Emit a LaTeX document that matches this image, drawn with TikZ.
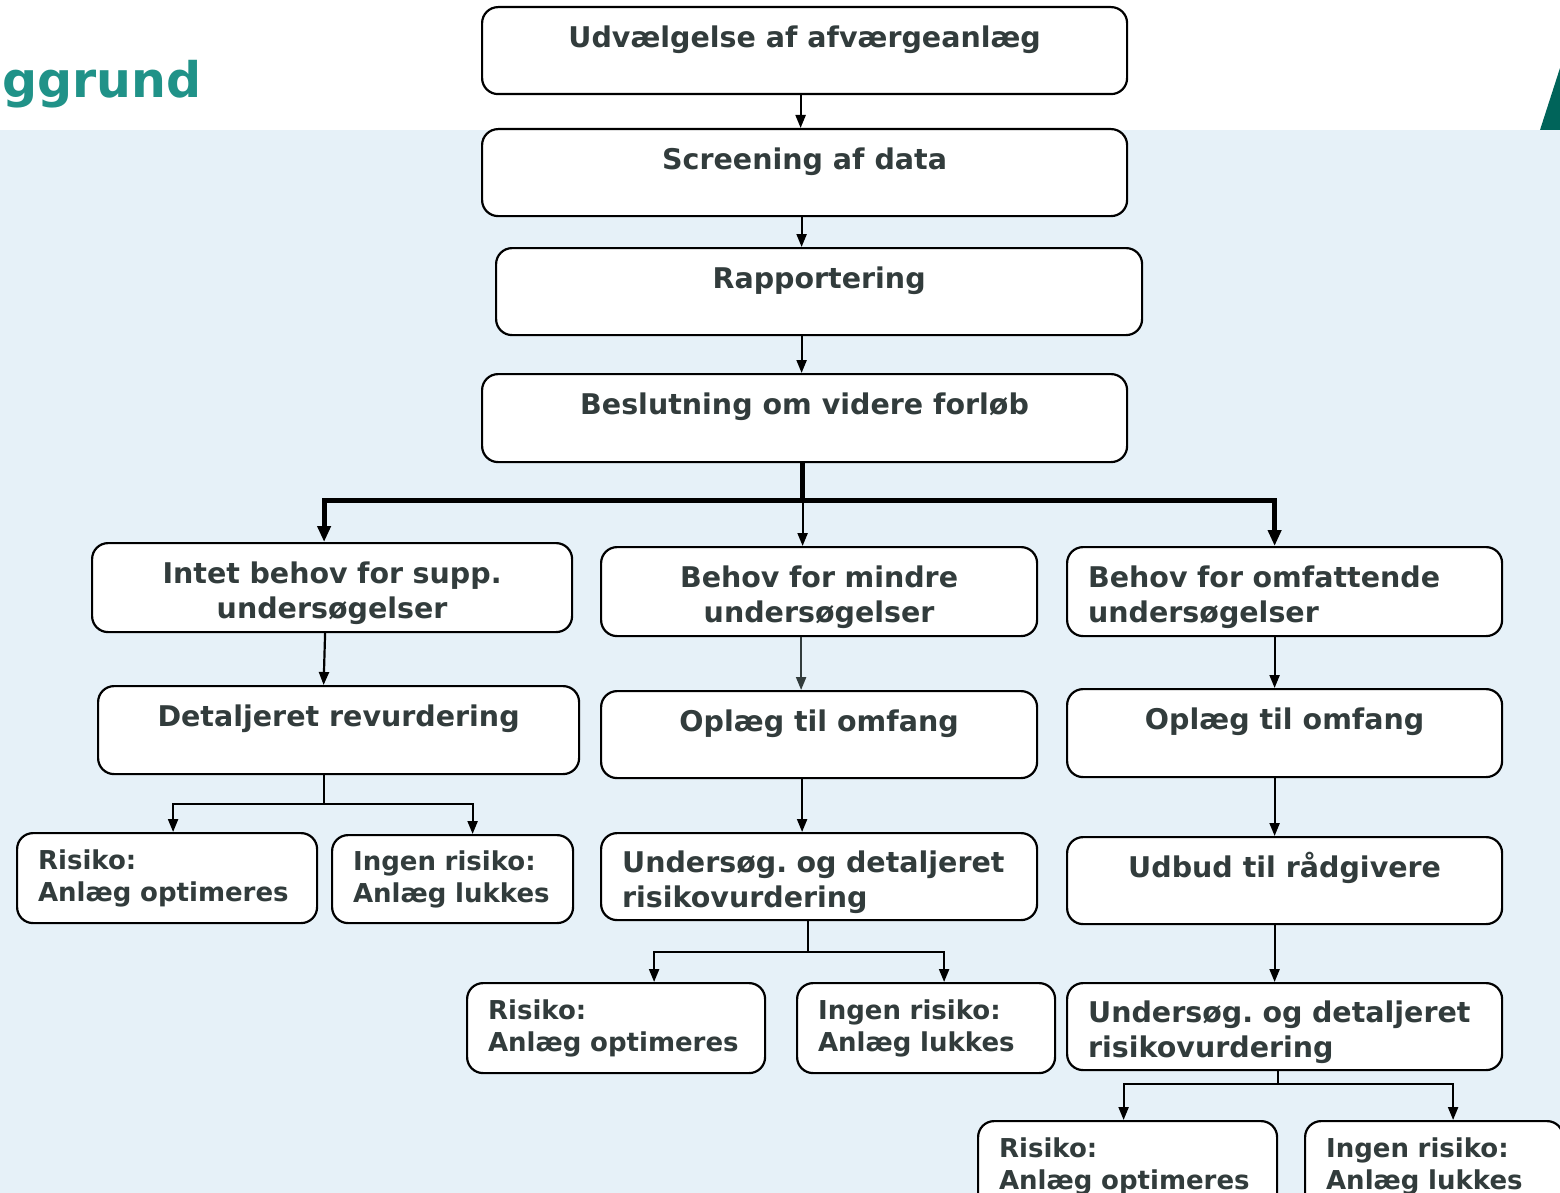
\documentclass[tikz,border=0pt]{standalone}
\usepackage{fontspec}
\setmainfont{DejaVu Sans}
\usepackage{tikz}
\usetikzlibrary{arrows.meta}
\frenchspacing
\tikzstyle{canvas} = [x = 1pt, y = -1pt]
\definecolor{bgColor}{RGB}{230,241,248}
\definecolor{textColor}{RGB}{50,60,60}
\definecolor{titleColor}{RGB}{32,146,136}
\definecolor{cornerColor}{RGB}{0,100,90}
\tikzstyle{flowBox} = [draw=black, fill=white, line width=2.2pt, rounded corners=16pt, anchor=north west, inner sep=0pt, text=textColor]
\tikzstyle{bigText} = [font=\bfseries\fontsize{28.5}{35}\selectfont]
\tikzstyle{smallText} = [font=\bfseries\fontsize{26}{32}\selectfont]
\tikzstyle{oneLine} = [bigText, text height=40pt, text depth=47pt]
\tikzstyle{twoLine} = [bigText, execute at begin node={\rule{0pt}{33pt}}]
\tikzstyle{arrowLine} = [draw=black, line width=2.2pt, -{Triangle[length=13pt, width=10pt]}]
\tikzstyle{thickLine} = [draw=black, line width=4.8pt]
\tikzstyle{thickArrow} = [thickLine, -{Triangle[length=16pt, width=13pt]}]
\newcommand{\centerBox}[6]{\node [flowBox, #5, align=center, minimum width=#3, minimum height=#4] (#1) at (#2) {#6};}
\newcommand{\textBox}[6]{\node [flowBox, align=left, inner xsep=21pt, text width=#3, minimum height=#4, #5] (#1) at (#2) {#6};}
\begin{document}
\begin{tikzpicture}[canvas]
  \useasboundingbox (0,0) rectangle (1560,1193);
  \clip (0,0) rectangle (1560,1193);
  % background
  \fill [white] (0,0) rectangle (1560,130);
  \fill [bgColor] (0,130) rectangle (1560,1193);
  \node [anchor=base west, inner sep=0pt, text=titleColor, font=\bfseries\fontsize{49}{55}\selectfont] (title) at (2,98) {ggrund};
  \fill [cornerColor] (1540,130) -- (1560,68) -- (1560,130) -- cycle;

  % main column
  \centerBox{b1}{481,6}{645}{87}{oneLine}{Udvælgelse af afværgeanlæg}
  \centerBox{b2}{481,128}{645}{87}{oneLine}{Screening af data}
  \centerBox{b3}{495,247}{646}{87}{oneLine}{Rapportering}
  \centerBox{b4}{481,373}{645}{88}{oneLine}{Beslutning om videre forløb}

  % three branches
  \textBox{c1}{91,542}{438pt}{89}{twoLine, align=center}{Intet behov for supp.\\undersøgelser}
  \textBox{c2}{600,546}{394pt}{89}{twoLine, align=center}{Behov for mindre\\undersøgelser}
  \textBox{c3}{1066,546}{393pt}{89}{twoLine}{Behov for omfattende\\undersøgelser}

  \centerBox{d1}{97,685}{481}{88}{oneLine}{Detaljeret revurdering}
  \centerBox{d2}{600,690}{436}{87}{oneLine}{Oplæg til omfang}
  \centerBox{d3}{1066,688}{435}{88}{oneLine}{Oplæg til omfang}

  \textBox{e1}{16,832}{258pt}{90}{smallText}{Risiko:\\Anlæg optimeres}
  \textBox{e2}{331,834}{199pt}{88}{smallText}{Ingen risiko:\\Anlæg lukkes}
  \textBox{f2}{600,832}{394pt}{87}{twoLine}{Undersøg. og detaljeret\\risikovurdering}
  \centerBox{f3}{1066,836}{435}{87}{oneLine}{Udbud til rådgivere}

  \textBox{g1}{466,982}{256pt}{90}{smallText}{Risiko:\\Anlæg optimeres}
  \textBox{g2}{796,982}{216pt}{90}{smallText}{Ingen risiko:\\Anlæg lukkes}
  \textBox{h3}{1066,982}{393pt}{87}{twoLine}{Undersøg. og detaljeret\\risikovurdering}

  \textBox{i1}{977,1120}{257pt}{90}{smallText}{Risiko:\\Anlæg optimeres}
  \textBox{i2}{1304,1120}{216pt}{90}{smallText}{Ingen risiko:\\Anlæg lukkes}

  % connectors
  \draw [arrowLine] ([xshift=-4pt]b1.south) -- ([xshift=-4pt]b2.north);
  \draw [arrowLine] ([xshift=-3pt]b2.south) -- ([xshift=-3pt]b2.south |- b3.north);
  \draw [arrowLine] ([xshift=-3pt]b4.north |- b3.south) -- ([xshift=-3pt]b4.north);

  \path ([xshift=-2pt]b4.south) ++(0,37) coordinate (b4fork);
  \draw [thickLine] ([xshift=-2pt]b4.south) -- (b4fork);
  \draw [thickArrow] (b4fork) -| ([xshift=-8pt]c1.north);
  \draw [thickArrow] (b4fork) -| ([xshift=-10pt]c3.north);
  \draw [arrowLine] (b4fork) -- (b4fork |- c2.north);

  \draw [arrowLine] ([xshift=-7pt]c1.south) -- ([xshift=-15pt]d1.north);
  \draw [arrowLine, draw=textColor] ([xshift=-18pt]c2.south) -- ([xshift=-18pt]d2.north);
  \draw [arrowLine] ([xshift=-10pt]c3.south) -- ([xshift=-10pt]d3.north);

  \path ([xshift=-15pt]d1.south) ++(0,29) coordinate (d1fork);
  \draw [line width=2.2pt] ([xshift=-15pt]d1.south) -- (d1fork);
  \draw [arrowLine] (d1fork) -| ([xshift=6pt]e1.north);
  \draw [arrowLine] (d1fork) -| ([xshift=20pt]e2.north);

  \draw [arrowLine] ([xshift=-17pt]d2.south) -- ([xshift=-17pt]f2.north);
  \draw [arrowLine] ([xshift=-10pt]d3.south) -- ([xshift=-10pt]f3.north);

  \path ([xshift=-11pt]f2.south) ++(0,31) coordinate (f2fork);
  \draw [line width=2.2pt] ([xshift=-11pt]f2.south) -- (f2fork);
  \draw [arrowLine] (f2fork) -| ([xshift=38pt]g1.north);
  \draw [arrowLine] (f2fork) -| ([xshift=18pt]g2.north);

  \draw [arrowLine] ([xshift=-10pt]f3.south) -- ([xshift=-10pt]h3.north);

  \path ([xshift=-7pt]h3.south) ++(0,13) coordinate (h3fork);
  \draw [line width=2.2pt] ([xshift=-7pt]h3.south) -- (h3fork);
  \draw [arrowLine] (h3fork) -| ([xshift=-4pt]i1.north);
  \draw [arrowLine] (h3fork) -| ([xshift=19pt]i2.north);
\end{tikzpicture}
\end{document}
